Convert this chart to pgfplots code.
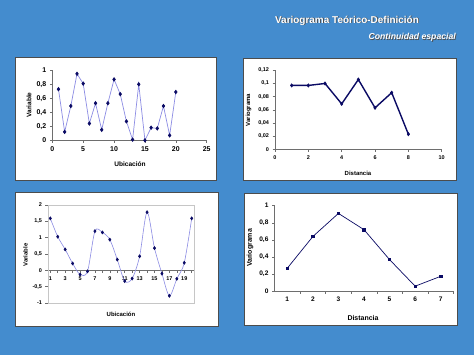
\documentclass[border=0pt]{standalone}
\usepackage{fontspec}
\setmainfont{Liberation Sans}
\usepackage{pgfplots}
\pgfplotsset{compat=1.18}
\definecolor{bgblue}{RGB}{68,140,206}
\definecolor{navy}{RGB}{10,10,100}
\definecolor{lightline}{RGB}{140,140,228}
\definecolor{axgray}{RGB}{110,110,110}
\newcommand{\fs}[1]{\fontsize{#1}{#1}\selectfont}
\pgfplotsset{
  every axis/.append style={
    scale only axis,
    anchor=south west,
    /pgf/number format/assume math mode=true,
    /pgf/number format/use comma,
    tick align=outside,
    major tick length=2.5bp,
    minor tick length=2.5bp,
    tick style={axgray, line width=0.5bp},
    axis line style={-, axgray, line width=0.6bp},
    clip=false,
  }
}
\begin{document}
\begin{tikzpicture}
\path[use as bounding box] (0bp,0bp) rectangle (474bp,-355bp);
\fill[bgblue] (0bp,0bp) rectangle (474bp,-355bp);
% titles
\node[text=black!70, anchor=center] at (347.8bp,-21.3bp) {\bfseries\fs{10}Variograma Teórico-Definición};
\node[text=white, anchor=center] at (347bp,-20.5bp) {\bfseries\fs{10}Variograma Teórico-Definición};
\node[text=black!70, anchor=east, inner sep=0pt] at (456.8bp,-38.3bp) {\bfseries\itshape\fs{8.7}Continuidad espacial};
\node[text=white, anchor=east, inner sep=0pt] at (456bp,-37.5bp) {\bfseries\itshape\fs{8.7}Continuidad espacial};
% panels
\filldraw[fill=white, draw=black!70, line width=0.6bp] (15.5bp,-57.7bp) rectangle (216.7bp,-180.7bp);
\filldraw[fill=white, draw=black!70, line width=0.6bp] (243.3bp,-58bp) rectangle (456bp,-180.7bp);
\filldraw[fill=white, draw=black!70, line width=0.6bp] (15.7bp,-192.5bp) rectangle (218.3bp,-326bp);
\filldraw[fill=white, draw=black!70, line width=0.6bp] (244.5bp,-193bp) rectangle (457.5bp,-325.7bp);

% Panel 1
\begin{axis}[at={(52.3bp,-140.3bp)}, width=154.4bp, height=70bp,
  xmin=0, xmax=25, ymin=0, ymax=1,
  axis x line*=bottom, axis y line*=left,
  xtick={0,5,...,25}, ytick={0,0.2,...,1},
  ticklabel style={font=\bfseries\fs{7}},
  yticklabel style={/pgf/number format/fixed},
  ]
\addplot[lightline, line width=0.7bp, mark=diamond*, mark size=1.7bp,
  mark options={navy, draw=navy}] coordinates {
(1,0.73) (2,0.12) (3,0.49) (4,0.95) (5,0.81) (6,0.24) (7,0.53) (8,0.15) (9,0.53) (10,0.87)
(11,0.66) (12,0.27) (13,0.01) (14,0.80) (15,0.00) (16,0.18) (17,0.17) (18,0.49) (19,0.07) (20,0.69)};
\end{axis}
\node[anchor=center] at (130bp,-164.5bp) {\bfseries\fs{6.6}Ubicación};
\node[anchor=center, rotate=90] at (29bp,-105bp) {\bfseries\fs{6.6}Variable};

% Panel 2
\begin{axis}[at={(275bp,-149.3bp)}, width=166.7bp, height=79bp,
  xmin=0, xmax=10, ymin=0, ymax=0.12,
  axis x line*=bottom, axis y line*=left,
  xtick={0,2,...,10}, ytick={0,0.02,0.04,0.06,0.08,0.1,0.12},
  ticklabel style={font=\bfseries\fs{5.5}},
  yticklabel style={/pgf/number format/fixed, /pgf/number format/precision=2},
  ]
\addplot[navy, line width=1.4bp, mark=diamond*, mark size=1.7bp,
  mark options={navy, line width=0.5bp}] coordinates {
(1,0.097) (2,0.097) (3,0.100) (4,0.069) (5,0.106) (6,0.063) (7,0.086) (8,0.023)};
\end{axis}
\node[anchor=center] at (358bp,-173.5bp) {\bfseries\fs{6}Distancia};
\node[anchor=center, rotate=90] at (248.5bp,-110bp) {\bfseries\fs{6}Variograma};

% Panel 3
\begin{axis}[at={(48bp,-303bp)}, width=146.3bp, height=98bp,
  xmin=0.69, xmax=20.35, ymin=-1, ymax=2,
  axis x line*=middle, axis y line*=left,
  xtick={1,3,...,19}, minor xtick={2,4,...,20},
  ytick={-1,-0.5,0,0.5,1,1.5,2},
  ticklabel style={font=\bfseries\fs{5.5}},
  x tick label style={yshift=-0.5bp},
  yticklabel style={/pgf/number format/fixed},
  ]
\draw[gray!45, line width=0.5bp] (rel axis cs:0,0) rectangle (rel axis cs:1,1);
\addplot[lightline, line width=0.6bp, smooth, tension=0.5, mark=diamond*, mark size=1.5bp,
  mark options={navy, draw=navy}] coordinates {
(1,1.59) (2,1.03) (3,0.64) (4,0.21) (5,-0.13) (6,-0.03) (7,1.20) (8,1.16) (9,0.94) (10,0.33)
(11,-0.33) (12,-0.25) (13,0.43) (14,1.78) (15,0.68) (16,-0.10) (17,-0.78) (18,-0.26) (19,0.23) (20,1.59)};
\end{axis}
\node[anchor=center] at (121bp,-314.5bp) {\bfseries\fs{6}Ubicación};
\node[anchor=center, rotate=90] at (25.5bp,-255bp) {\bfseries\fs{6}Variable};

% Panel 4
\begin{axis}[at={(274.5bp,-291.3bp)}, width=179bp, height=85.6bp,
  xmin=0.5, xmax=7.5, ymin=0, ymax=1,
  axis x line*=bottom, axis y line*=left,
  xtick={1,...,7}, minor xtick={1.5,2.5,...,7.5},
  major x tick style={draw=none},
  ytick={0,0.2,...,1},
  ticklabel style={font=\bfseries\fs{6.6}},
  yticklabel style={/pgf/number format/fixed},
  ]
\addplot[navy, line width=0.7bp, mark=square*, mark size=1.2bp,
  mark options={navy}] coordinates {
(1,0.27) (2,0.64) (3,0.91) (4,0.72) (5,0.37) (6,0.06) (7,0.175)};
\end{axis}
\node[anchor=center] at (363bp,-318bp) {\bfseries\fs{7}Distancia};
\node[anchor=center, rotate=90] at (250bp,-248bp) {\bfseries\fs{7}Variograma};
\end{tikzpicture}
\end{document}
